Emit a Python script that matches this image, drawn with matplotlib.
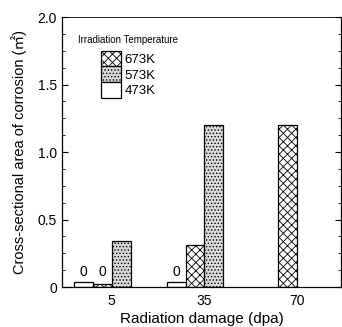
import matplotlib
matplotlib.use("Agg")
import matplotlib.pyplot as plt
from matplotlib.patches import Patch
from matplotlib.ticker import MultipleLocator

# ---- data ----
categories = ["5", "35", "70"]
temps = ["673K", "573K", "473K"]
vals_473 = [0.035, 0.035, None]
vals_673 = [0.025, 0.31, 1.20]
vals_573 = [0.345, 1.20, None]
zero_473 = [True, True, False]
zero_673 = [True, False, False]
yticks = [0, 0.5, 1.0, 1.5, 2.0]
ytick_labels = ["0", "0.5", "1.0", "1.5", "2.0"]

# ---- layout ----
w = 0.204
offsets = {"473K": -1.5 * w, "673K": -0.5 * w, "573K": 0.5 * w}

plt.rcParams['font.family'] = ['Liberation Sans', 'Noto Sans CJK JP', 'DejaVu Sans']
plt.rcParams['hatch.linewidth'] = 0.6

fig = plt.figure(figsize=(3.42, 3.27), dpi=100)
ax = fig.add_axes([0.181, 0.122, 0.816, 0.826])

style = {
    "473K": dict(facecolor="white", hatch=None),
    "673K": dict(facecolor="white", hatch="xxxx"),
    "573K": dict(facecolor="#d9d9d9", hatch="....."),
}
series = {"473K": vals_473, "673K": vals_673, "573K": vals_573}
zeros = {"473K": zero_473, "673K": zero_673}

for t in ["473K", "673K", "573K"]:
    for i, v in enumerate(series[t]):
        if v is None:
            continue
        x = i + offsets[t]
        ax.bar(x, v, width=w, edgecolor="black", linewidth=0.9, **style[t])
        if t in zeros and zeros[t][i]:
            ax.text(x, 0.06, "0", ha="center", va="bottom", fontsize=10)

ax.set_xlim(-0.538, 2.473)
ax.set_ylim(0, 2.0)
ax.set_xticks(range(len(categories)))
ax.set_xticklabels(categories, fontsize=10)
ax.tick_params(axis="x", length=0, pad=5)
ax.set_yticks(yticks)
ax.set_yticklabels(ytick_labels, fontsize=10)
ax.yaxis.set_minor_locator(MultipleLocator(0.125))
ax.tick_params(axis="y", which="both", direction="in", right=True)
ax.tick_params(axis="y", which="major", length=4, width=0.8)
ax.tick_params(axis="y", which="minor", length=2.5, width=0.6)
for s in ax.spines.values():
    s.set_linewidth(0.9)
ax.spines["top"].set_linewidth(0.6)

ax.set_xlabel("Radiation damage (dpa)", fontsize=11, labelpad=3)
ax.set_ylabel("Cross-sectional area of corrosion (㎡)", fontsize=10.5, labelpad=8)

ax.text(0.057, 0.915, "Irradiation Temperature", transform=ax.transAxes,
        fontsize=7, ha="left", va="center")
handles = [Patch(edgecolor="black", linewidth=0.9, **style[t]) for t in temps]
ax.legend(handles, temps, loc="upper left", bbox_to_anchor=(0.14, 0.875),
          frameon=False, fontsize=9.5, labelspacing=0.0, handlelength=1.5,
          handleheight=1.45, handletextpad=0.3, borderpad=0, borderaxespad=0)

fig.savefig("out.png", dpi=100)
